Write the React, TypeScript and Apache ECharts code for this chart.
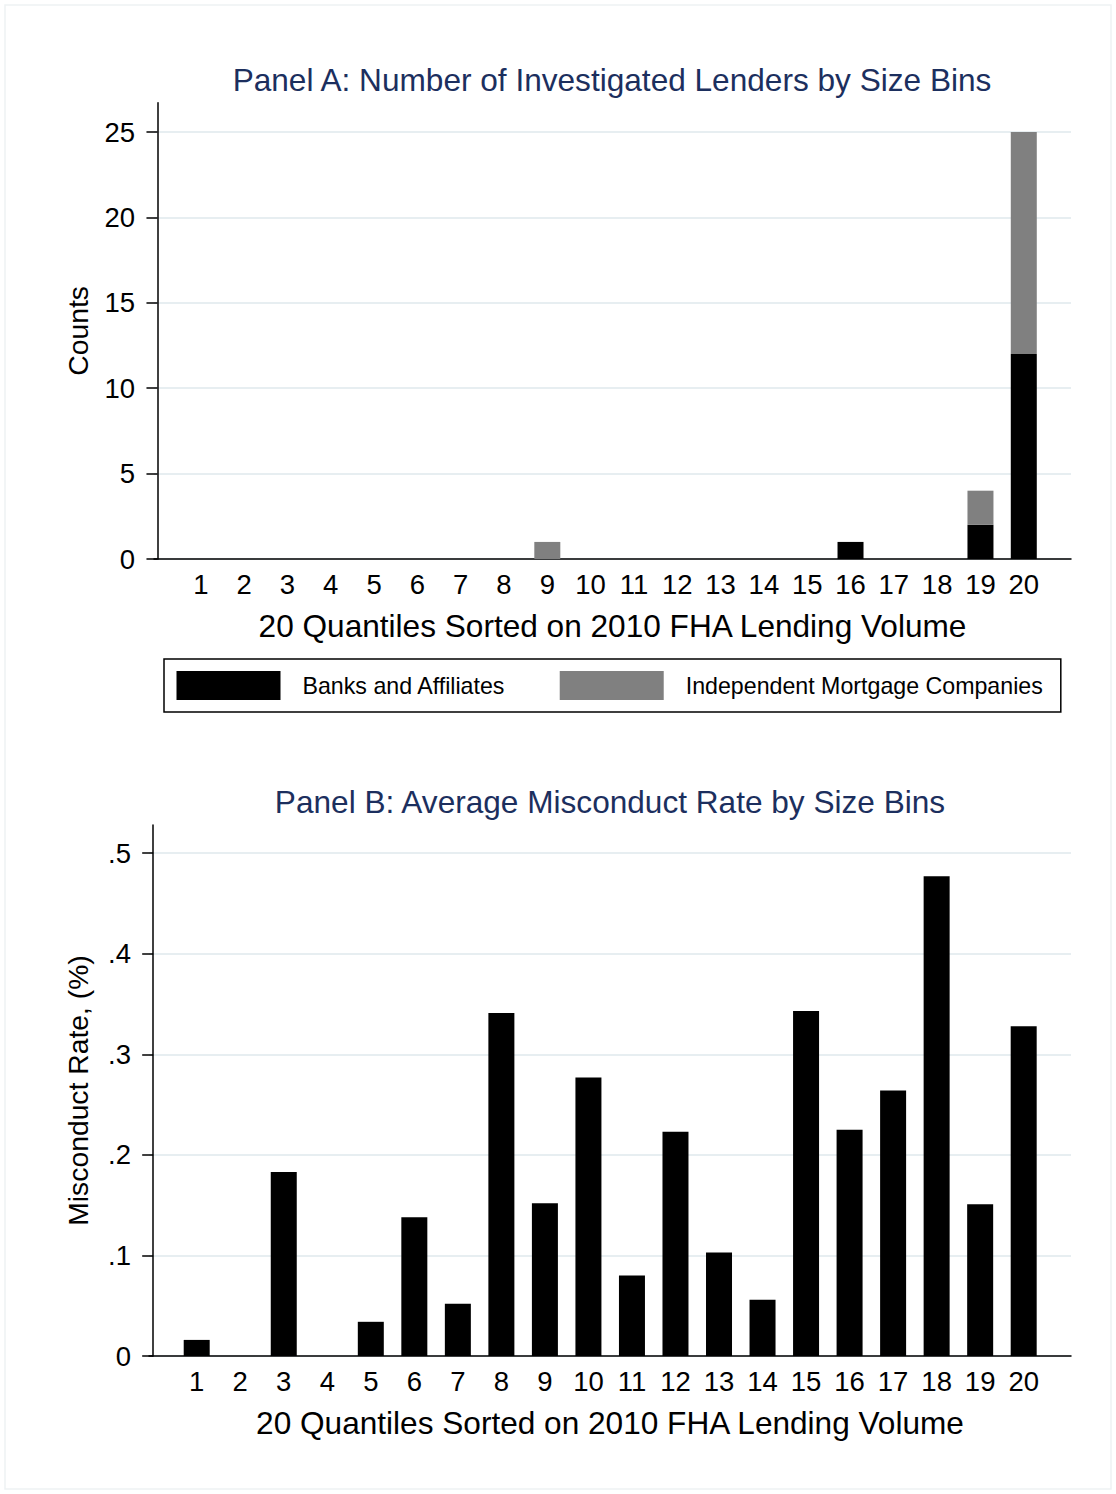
import React, { useEffect, useRef } from "react";
import * as echarts from "echarts";

const quantiles = [1, 2, 3, 4, 5, 6, 7, 8, 9, 10, 11, 12, 13, 14, 15, 16, 17, 18, 19, 20];
const banksCounts = [0, 0, 0, 0, 0, 0, 0, 0, 0, 0, 0, 0, 0, 0, 0, 1, 0, 0, 2, 12];
const independentCounts = [0, 0, 0, 0, 0, 0, 0, 0, 1, 0, 0, 0, 0, 0, 0, 0, 0, 0, 2, 13];
const misconductRate = [
  0.016, 0, 0.183, 0, 0.034, 0.138, 0.052, 0.341, 0.152, 0.277,
  0.08, 0.223, 0.103, 0.056, 0.343, 0.225, 0.264, 0.477, 0.151, 0.328,
];
const countTicks = [0, 5, 10, 15, 20, 25];
const rateTicks = [0, 0.1, 0.2, 0.3, 0.4, 0.5];

const titleA = "Panel A: Number of Investigated Lenders by Size Bins";
const titleB = "Panel B: Average Misconduct Rate by Size Bins";
const xName = "20 Quantiles Sorted on 2010 FHA Lending Volume";
const yNameA = "Counts";
const yNameB = "Misconduct Rate, (%)";
const seriesNames = ["Banks and Affiliates", "Independent Mortgage Companies"];

const FONT = "'Liberation Sans', Arial, Helvetica, sans-serif";
const GRID_COLOR = "#e7eef1";
const TITLE_COLOR = "#1c2f5e";

export default function App() {
  const ref = useRef<HTMLDivElement>(null);

  useEffect(() => {
    document.body.style.margin = "0";
    if (!ref.current) return;
    const chart = echarts.init(ref.current, null, { renderer: "svg" });

    const xAxisBase = (min: number, max: number, gridIndex: number) => ({
      type: "value",
      gridIndex,
      min,
      max,
      name: xName,
      nameLocation: "middle",
      nameGap: 51,
      nameTextStyle: { fontSize: 31.6, color: "#000", fontFamily: FONT },
      axisLine: { show: true, onZero: false, lineStyle: { color: "#000", width: 1.5 } },
      axisTick: { show: false },
      splitLine: { show: false },
      axisLabel: {
        customValues: quantiles,
        fontSize: 27.5,
        color: "#000",
        fontFamily: FONT,
        margin: 11,
        formatter: (v: number) => String(v),
      },
    });

    const yAxisBase = (
      max: number,
      ticks: number[],
      name: string,
      nameGap: number,
      margin: number,
      gridIndex: number,
      fmt: (v: number) => string
    ) => ({
      type: "value",
      gridIndex,
      min: 0,
      max,
      name,
      nameLocation: "middle",
      nameGap,
      nameTextStyle: { fontSize: 28.3, color: "#000", fontFamily: FONT },
      axisLine: { show: true, lineStyle: { color: "#000", width: 1.5 } },
      axisTick: {
        show: true,
        customValues: ticks,
        length: 11,
        lineStyle: { color: "#000", width: 1.5 },
      },
      axisLabel: {
        customValues: ticks,
        fontSize: 27.5,
        color: "#000",
        fontFamily: FONT,
        margin,
        formatter: fmt,
      },
      splitLine: { show: true, lineStyle: { color: GRID_COLOR, width: 2 } },
    });

    // data rows are [value, quantile]; encode maps them so that stacking happens on the value
    const rows = (vals: number[]) => quantiles.map((q, i) => [vals[i], q]);

    const option: any = {
      animation: false,
      backgroundColor: "#fff",
      textStyle: { fontFamily: FONT },
      graphic: [
        {
          type: "rect",
          shape: { x: 5, y: 5, width: 1106, height: 1484 },
          style: { fill: "none", stroke: "#eef2f4", lineWidth: 1.5 },
          silent: true,
        },
        {
          type: "text",
          x: 612,
          y: 80,
          style: {
            text: titleA,
            fontSize: 31.6,
            fill: TITLE_COLOR,
            fontFamily: FONT,
            textAlign: "center",
            textVerticalAlign: "middle",
          },
        },
        {
          type: "text",
          x: 610,
          y: 802,
          style: {
            text: titleB,
            fontSize: 31.6,
            fill: TITLE_COLOR,
            fontFamily: FONT,
            textAlign: "center",
            textVerticalAlign: "middle",
          },
        },
      ],
      legend: {
        data: seriesNames,
        left: 164,
        top: 659,
        orient: "horizontal",
        padding: [12, 18, 12, 12.5],
        borderColor: "#000",
        borderWidth: 1.5,
        borderRadius: 0,
        itemWidth: 104,
        itemHeight: 29,
        itemGap: 54,
        icon: "rect",
        selectedMode: false,
        textStyle: { fontSize: 23.2, color: "#000", fontFamily: FONT, padding: [0, 0, 0, 17] },
      },
      grid: [
        { left: 154, right: 45, top: 102.7, bottom: 1494 - 559, containLabel: false },
        { left: 149, right: 45, top: 825, bottom: 1494 - 1356, containLabel: false },
      ],
      xAxis: [xAxisBase(-0.08, 21.09, 0), xAxisBase(-0.096, 21.087, 1)],
      yAxis: [
        yAxisBase(26.72, countTicks, yNameA, 62, 19, 0, (v: number) => String(v)),
        yAxisBase(0.528, rateTicks, yNameB, 57, 18, 1, (v: number) =>
          v === 0 ? "0" : String(Math.round(v * 10) / 10).replace(/^0/, "")
        ),
      ],
      series: [
        {
          name: seriesNames[0],
          type: "bar",
          xAxisIndex: 0,
          yAxisIndex: 0,
          stack: "counts",
          barWidth: 26,
          encode: { x: 1, y: 0 },
          itemStyle: { color: "#000" },
          data: rows(banksCounts),
        },
        {
          name: seriesNames[1],
          type: "bar",
          xAxisIndex: 0,
          yAxisIndex: 0,
          stack: "counts",
          barWidth: 26,
          encode: { x: 1, y: 0 },
          itemStyle: { color: "#808080" },
          data: rows(independentCounts),
        },
        {
          name: "Misconduct Rate",
          type: "bar",
          xAxisIndex: 1,
          yAxisIndex: 1,
          barWidth: 26,
          encode: { x: 1, y: 0 },
          itemStyle: { color: "#000" },
          data: rows(misconductRate),
        },
      ],
    };

    chart.setOption(option);
    return () => chart.dispose();
  }, []);

  return <div ref={ref} style={{ width: 1116, height: 1494 }} />;
}
